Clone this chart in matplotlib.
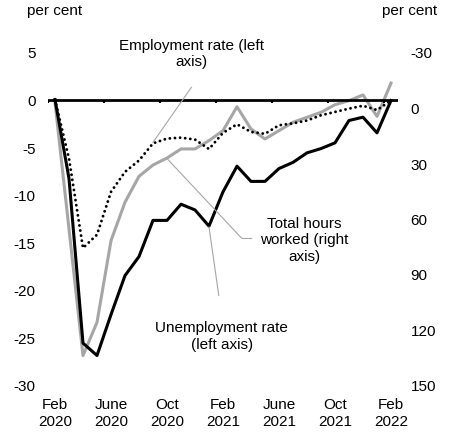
import matplotlib
matplotlib.use("Agg")
from matplotlib import pyplot as plt
import numpy as np

plt.rcParams["font.family"] = ["Liberation Sans", "DejaVu Sans"]
plt.rcParams["font.size"] = 11
plt.rcParams["axes.unicode_minus"] = False

# monthly, Feb 2020 .. Feb 2022
months = np.arange(25)
tick_pos = [0, 4, 8, 12, 16, 20, 24]
tick_labels = ["Feb\n2020", "June\n2020", "Oct\n2020", "Feb\n2021",
               "June\n2021", "Oct\n2021", "Feb\n2022"]

# left axis (per cent)
employment = [0, -6.2, -15.6, -14.2, -9.7, -7.6, -6.4, -4.6, -4.1, -4.0,
              -4.2, -5.2, -3.5, -2.6, -3.4, -3.6, -2.7, -2.5, -2.2, -1.65,
              -1.3, -0.95, -0.65, -1.1, -0.1]
unemployment = [0, -8.3, -25.6, -26.9, -22.6, -18.5, -16.5, -12.7, -12.7,
                -11.0, -11.6, -13.3, -9.7, -7.0, -8.6, -8.6, -7.25, -6.6,
                -5.6, -5.15, -4.55, -2.2, -1.85, -3.5, -0.1]
# right axis (per cent, inverted)
hours = [-2.8, 65.7, 134.1, 116.1, 72.0, 51.2, 37.2, 31.1, 27.3, 22.4,
         22.4, 17.9, 12.5, -0.4, 11.6, 17.0, 12.5, 8.0, 5.3, 2.6, -1.5,
         -3.7, -6.8, 4.8, -13.2]

GREY = "#a6a6a6"

fig = plt.figure(figsize=(4.5, 4.35), dpi=100)
ax = fig.add_axes([48 / 450, 1 - 386 / 435, 350 / 450, 333 / 435])
ax2 = ax.twinx()

ax.set_xlim(-0.5, 24.5)
ax.set_ylim(-30, 5)
ax2.set_ylim(150, -30)

for a in (ax, ax2):
    for s in a.spines.values():
        s.set_visible(False)

ax.set_yticks(np.arange(-30, 6, 5))
ax2.set_yticks(np.arange(-30, 151, 30))
ax.tick_params(axis="y", length=0, pad=9)
ax2.tick_params(axis="y", length=0, pad=9)
ax.set_xticks(tick_pos)
ax.set_xticklabels(tick_labels)
ax.tick_params(axis="x", length=0, pad=9)

# zero line with tick marks between categories
ax.axhline(0, color="black", lw=2, zorder=2)
ax.vlines(np.arange(-0.5, 24, 4), -0.35, 0, color="black", lw=1.5, zorder=2)

ax2.plot(months, hours, color=GREY, lw=2.2, zorder=3)
ax.plot(months, unemployment, color="black", lw=2.2, zorder=4)
ax.plot(months, employment, color="black", lw=2.1,
        linestyle=(0, (0.01, 1.75)), dash_capstyle="round", zorder=5)
ax.set_zorder(ax2.get_zorder() + 1)
ax.patch.set_visible(False)

# labels with leader lines
lk = dict(color=GREY, lw=0.8, zorder=6)
ax.plot([9.75, 7.0], [1.3, -4.5], **lk)
ax.plot([8.0, 13.35, 14.05], [-6.2, -14.6, -14.6], **lk)
ax.plot([11.0, 11.7], [-13.4, -20.6], **lk)

ax.text(9.76, 4.9, "Employment rate (left\naxis)", ha="center", va="center")
ax.text(17.8, -14.7, "Total hours\nworked (right\naxis)", ha="center", va="center")
ax.text(11.9, -24.8, "Unemployment rate\n(left axis)", ha="center", va="center")

fig.text(27 / 450, 1 - 11 / 435, "per cent", ha="left", va="center")
fig.text(437 / 450, 1 - 11 / 435, "per cent", ha="right", va="center")

fig.savefig("out.png", dpi=100)
